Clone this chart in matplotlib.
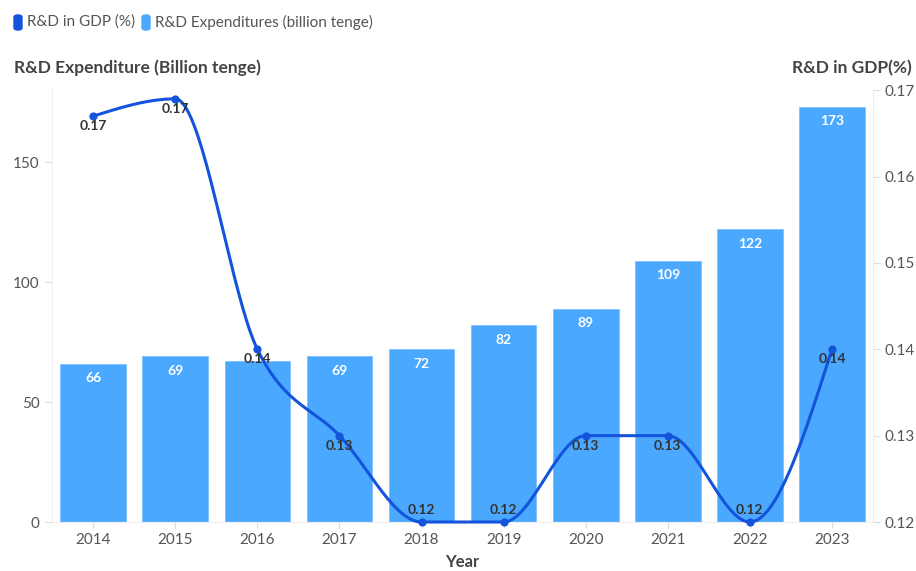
import numpy as np
import matplotlib
matplotlib.use("Agg")
import matplotlib.pyplot as plt
from matplotlib.patches import FancyBboxPatch

plt.rcParams['font.family'] = ['Lato', 'DejaVu Sans']

years = ["2014", "2015", "2016", "2017", "2018", "2019", "2020", "2021", "2022", "2023"]
expenditure = [66, 69, 67, 69, 72, 82, 89, 109, 122, 173]
gdp_share = [0.167, 0.169, 0.140, 0.130, 0.120, 0.120, 0.130, 0.130, 0.120, 0.140]
gdp_labels = ["0.17", "0.17", "0.14", "0.13", "0.12", "0.12", "0.13", "0.13", "0.12", "0.14"]

BAR = "#4aa8ff"
LINE = "#1454dc"
TXT = "#555555"


def monotone_curve(x, y, n=40):
    x = np.asarray(x, float); y = np.asarray(y, float)
    h = np.diff(x); s = np.diff(y) / h
    m = np.zeros_like(y)
    for i in range(1, len(y) - 1):
        if s[i - 1] * s[i] <= 0:
            m[i] = 0
        else:
            m[i] = (np.sign(s[i - 1]) + np.sign(s[i])) * min(abs(s[i - 1]), abs(s[i]),
                    0.5 * abs((h[i - 1] * s[i] + h[i] * s[i - 1]) / (h[i - 1] + h[i])))
    m[0] = (3 * s[0] - m[1]) / 2
    m[-1] = (3 * s[-1] - m[-2]) / 2
    xs, ys = [], []
    for i in range(len(h)):
        t = np.linspace(0, 1, n)
        h00 = 2 * t**3 - 3 * t**2 + 1
        h10 = t**3 - 2 * t**2 + t
        h01 = -2 * t**3 + 3 * t**2
        h11 = t**3 - t**2
        xs.append(x[i] + t * h[i])
        ys.append(h00 * y[i] + h10 * h[i] * m[i] + h01 * y[i + 1] + h11 * h[i] * m[i + 1])
    return np.concatenate(xs), np.concatenate(ys)


fig = plt.figure(figsize=(9.16, 5.71), dpi=100)
ax = fig.add_axes([0.057, 0.0858, 0.896, 0.7562])
ax2 = ax.twinx()

x = np.arange(len(years))
ax.bar(x, expenditure, width=0.8, color=BAR, edgecolor="#7cc0ff", linewidth=0.6, zorder=2)

ax.set_xlim(-0.5, len(years) - 0.5)
ax.set_ylim(0, 180)
ax.set_yticks([0, 50, 100, 150])
ax.set_xticks(x)
ax.set_xticklabels(years)

ax2.set_ylim(0.12, 0.17)
ax2.set_yticks([0.12, 0.13, 0.14, 0.15, 0.16, 0.17])
ax2.set_yticklabels(["0.12", "0.13", "0.14", "0.15", "0.16", "0.17"])

cx, cy = monotone_curve(x, gdp_share)
ax2.plot(cx, cy, color=LINE, lw=2.2, zorder=4, clip_on=False, solid_capstyle="round")
ax2.scatter(x, gdp_share, s=24, color=LINE, zorder=5, clip_on=False)
line_texts = []
for xi, v, lab in zip(x, gdp_share, gdp_labels):
    if v <= 0.1205:
        off, va = 4, "bottom"
    else:
        off, va = -3, "top"
    t = ax2.annotate(lab, (xi, v), xytext=(0, off), textcoords="offset points",
                     ha="center", va=va, color="#333333", fontsize=10, fontweight="bold", zorder=6)
    line_texts.append(t)

bar_texts = []
for xi, v in zip(x, expenditure):
    t = ax.annotate(str(v), (xi, v), xytext=(0, -6), textcoords="offset points",
                    ha="center", va="top", color="white", fontsize=10, fontweight="bold", zorder=3)
    bar_texts.append(t)

for a in (ax, ax2):
    a.spines["top"].set_visible(False)
    a.spines["left"].set_color("#eeeeee")
    a.spines["right"].set_color("#eeeeee")
    a.spines["bottom"].set_color("#eeeeee")
    a.tick_params(colors="#dddddd", labelcolor=TXT, labelsize=11, length=4)
ax.tick_params(axis="y", length=5, pad=4)
ax.tick_params(axis="x", length=4, pad=4)
ax2.tick_params(axis="y", length=5, pad=3)
ax2.spines["left"].set_visible(False)

ax.set_xlabel("Year", fontsize=12, fontweight="bold", color="#444444", labelpad=5)
fig.text(14 / 916, 1 - 68 / 571, "R&D Expenditure (Billion tenge)", fontsize=12.5, fontweight="bold",
         color="#444444", ha="left", va="center")
fig.text(912 / 916, 1 - 68 / 571, "R&D in GDP(%)", fontsize=12.5, fontweight="bold",
         color="#444444", ha="right", va="center")

# legend
for (lx, col, label) in [(14, LINE, "R&D in GDP (%)"), (142, BAR, "R&D Expenditures (billion tenge)")]:
    patch = FancyBboxPatch((lx / 916, 1 - 30 / 571), 8 / 916, 15 / 571,
                           boxstyle="round,pad=0,rounding_size=0.004", transform=fig.transFigure,
                           color=col, figure=fig)
    fig.patches.append(patch)
    fig.text((lx + 13) / 916, 1 - 22 / 571, label, fontsize=11, color=TXT, ha="left", va="center")

# hide bar labels that collide with line labels (as in the reference)
fig.canvas.draw()
r = fig.canvas.get_renderer()
for bt in bar_texts:
    bb = bt.get_window_extent(r)
    bb = matplotlib.transforms.Bbox.from_extents(bb.x0 - 4, bb.y0 - 12, bb.x1 + 4, bb.y1 + 12)
    for lt in line_texts:
        if bb.overlaps(lt.get_window_extent(r)):
            bt.set_visible(False)
            break

fig.savefig("out.png", dpi=100)
